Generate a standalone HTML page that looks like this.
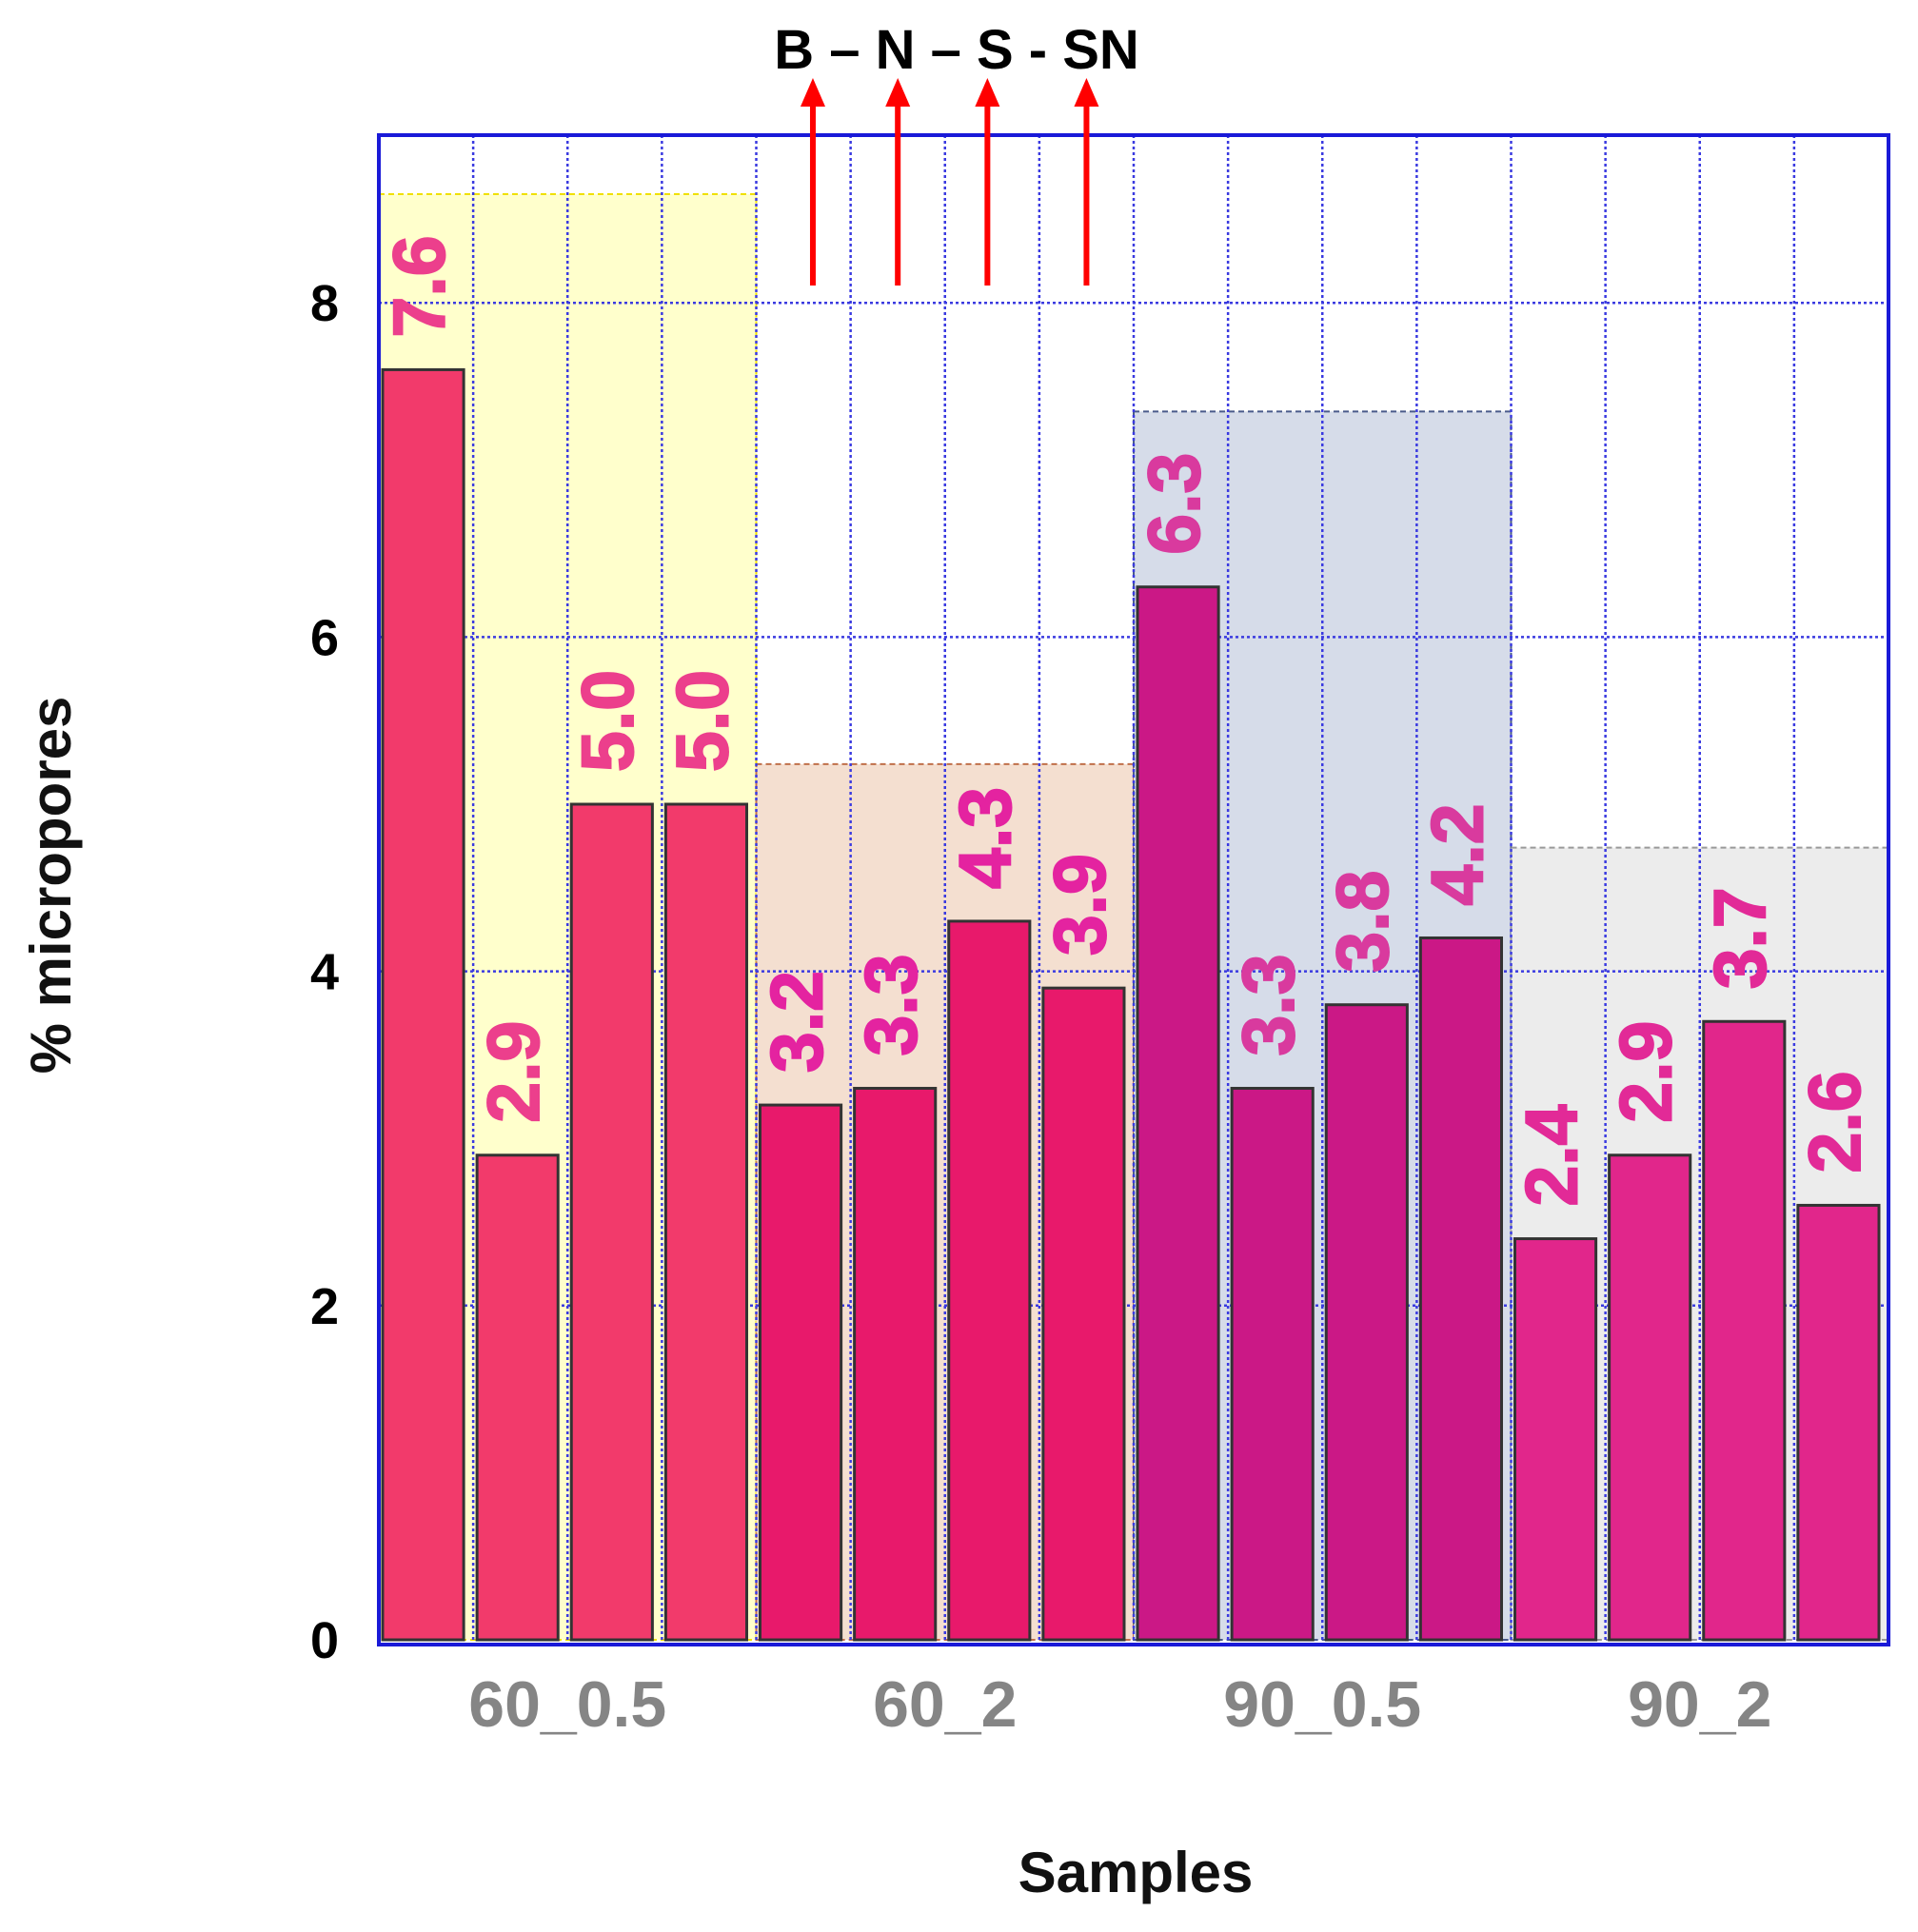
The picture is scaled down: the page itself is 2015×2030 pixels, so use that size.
<!DOCTYPE html>
<html><head><meta charset="utf-8"><style>
html,body{margin:0;padding:0;background:#fff;}
svg{display:block;font-family:"Liberation Sans",Arial,sans-serif;}
</style></head><body>
<svg id="chart" width="2015" height="2030" viewBox="0 0 2015 2030" xmlns="http://www.w3.org/2000/svg">
<g id="bg"></g>
<g id="grid"></g>
<g id="bars"></g>
<g id="labels"></g>
<g id="axes"></g>
<text x="58" y="930" transform="rotate(-90 58 930)" text-anchor="middle" dominant-baseline="middle" font-size="60" font-weight="bold" fill="#111">% micropores</text>
<text x="1193" y="1988" text-anchor="middle" font-size="60" font-weight="bold" fill="#111">Samples</text>
<text x="1005" y="72" text-anchor="middle" font-size="58" font-weight="bold" fill="#000">B – N – S - SN</text>
<g id="arrows"></g>
</svg>
<script>
const categories = ["60_0.5","60_2","90_0.5","90_2"];
const values = [7.6,2.9,5.0,5.0, 3.2,3.3,4.3,3.9, 6.3,3.3,3.8,4.2, 2.4,2.9,3.7,2.6];
const valueLabels = ["7.6","2.9","5.0","5.0","3.2","3.3","4.3","3.9","6.3","3.3","3.8","4.2","2.4","2.9","3.7","2.6"];
const groupShadeTops = [8.65,5.24,7.35,4.74];
const yTicks = [0,2,4,6,8];
const arrowSlots = [4.6,5.5,6.45,7.5];

const L=398,R=1984,T=142,B=1728,Y0=1723,PU=175.6;
const N=values.length, W=(R-L)/N;
const sx=i=>L+i*W;
const sy=v=>Y0-v*PU;
const NS="http://www.w3.org/2000/svg";
function mk(tag,attrs,parent){const e=document.createElementNS(NS,tag);for(const k in attrs)e.setAttribute(k,attrs[k]);parent.appendChild(e);return e;}
const barColors=["#f23a6b","#e8196b","#cb1886","#e1268b"];
const labelColors=["#ec3f8c","#e423a0","#d93a9e","#e22a97"];
const shadeFill=["#ffffcc","#f4dfd0","#d6dce9","#ececec"];
const shadeStroke=["#f0e000","#c0704a","#4a5a8a","#999999"];
const bg=document.getElementById('bg'),grid=document.getElementById('grid'),bars=document.getElementById('bars'),labels=document.getElementById('labels'),axes=document.getElementById('axes'),arrows=document.getElementById('arrows');

categories.forEach((c,g)=>{
  const r=mk('rect',{x:sx(g*4),y:sy(groupShadeTops[g]),width:4*W,height:Y0-sy(groupShadeTops[g]),fill:shadeFill[g],stroke:shadeStroke[g],'stroke-width':2,'stroke-dasharray':'6 4'},bg);
  
  
  const t=mk('text',{x:sx(g*4+2),y:1814,'text-anchor':'middle','font-size':68,'font-weight':'bold',fill:'#858585'},axes);
  t.textContent=c;
  
  
});
for(let i=1;i<N;i++){
  const l=mk('line',{x1:sx(i),x2:sx(i),y1:T,y2:B,stroke:'#3a3ae0','stroke-width':2.5,'stroke-dasharray':'3 3'},grid);
  
  
}
yTicks.forEach(v=>{
  if(v>0){const l=mk('line',{x1:L,x2:R,y1:sy(v),y2:sy(v),stroke:'#3a3ae0','stroke-width':2.5,'stroke-dasharray':'3 3'},grid);
  
  }
  const t=mk('text',{x:356,y:sy(v)+19,'text-anchor':'end','font-size':54,'font-weight':'bold',fill:'#000'},axes);
  t.textContent=v;
  
  
});
values.forEach((v,i)=>{
  const g=Math.floor(i/4);
  const r=mk('rect',{x:sx(i)+4,y:sy(v),width:W-14,height:Y0-sy(v),fill:barColors[g],stroke:'#333','stroke-width':3},bars);
  
  
  const cx=sx(i)+4+(W-14)/2+2, ty=sy(v)-34;
  const t=mk('text',{x:cx,y:ty,transform:`translate(${cx},${ty}) rotate(-90) translate(${-cx},${-ty})`,'font-size':77,'font-weight':'bold',fill:labelColors[g],stroke:labelColors[g],'stroke-width':2,'dominant-baseline':'middle'},labels);
  t.textContent=valueLabels[i];
  
  
});
const frame=mk('rect',{x:L,y:T,width:R-L,height:B-T,fill:'none',stroke:'#1a1ad8','stroke-width':4},axes);


arrowSlots.forEach(s=>{
  const x=sx(s);
  const l=mk('line',{x1:x,x2:x,y1:300,y2:110,stroke:'#ff0000','stroke-width':6},arrows);
  
  
  const p=mk('polygon',{points:`${x-13},${112} ${x+13},${112} ${x},${82}`,fill:'#ff0000'},arrows);
  
  
});
</script>
</body></html>
